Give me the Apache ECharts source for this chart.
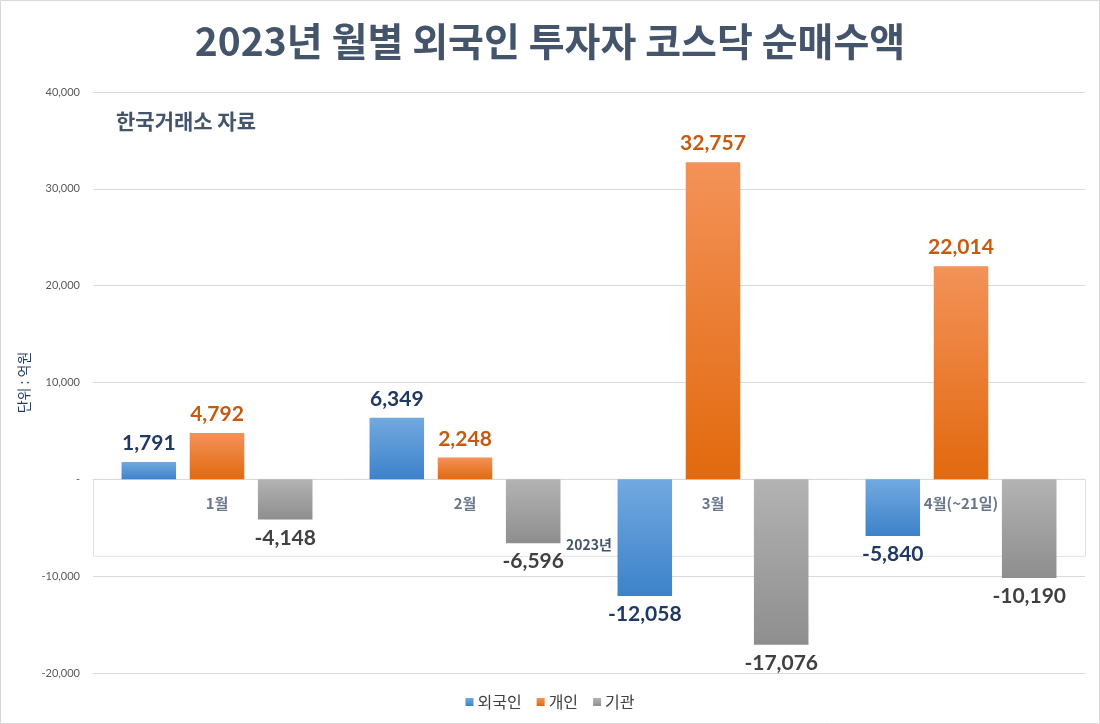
<!DOCTYPE html>
<html><head><meta charset="utf-8">
<script src="https://cdn.jsdelivr.net/npm/echarts@6/dist/echarts.min.js"></script>
<style>html,body{margin:0;padding:0;background:#fff}#c{width:1100px;height:724px}</style>
</head><body><div id="c"></div>
<script>
const categories = ['1월', '2월', '3월', '4월(~21일)'];
const foreign = [1791, 6349, -12058, -5840];
const individual = [4792, 2248, 32757, 22014];
const institution = [-4148, -6596, -17076, -10190];
const seriesNames = ['외국인', '개인', '기관'];
const axisTitle = '2023년';

const KR = '"Noto Sans CJK KR", sans-serif';
const NUM = 'Lato, "Noto Sans CJK KR", sans-serif';
const fmt = v => (v < 0 ? '-' : '') + Math.abs(v).toLocaleString('en-US');

function grad(top, bottom) {
  return new echarts.graphic.LinearGradient(0, 0, 0, 1, [{offset: 0, color: top}, {offset: 1, color: bottom}]);
}
function mk(name, data, top, bottom, labelColor) {
  return {
    name, type: 'bar', data: data.map(v => ({
      value: v,
      label: {position: v >= 0 ? 'top' : 'bottom'}
    })),
    barWidth: '22%', barGap: '25%',
    itemStyle: {color: grad(top, bottom)},
    label: {show: true, distance: 8, color: labelColor, fontFamily: NUM, fontWeight: 'bold', fontSize: 21,
      formatter: p => fmt(p.value)}
  };
}

const chart = echarts.init(document.getElementById('c'));
chart.setOption({
  animation: false,
  backgroundColor: '#fff',
  title: [{
    text: '2023년 월별 외국인 투자자 코스닥 순매수액', left: 'center', top: 17,
    textStyle: {fontFamily: KR, fontSize: 39, fontWeight: 'bold', color: '#44546A'}
  }, {
    text: '한국거래소 자료', left: 111, top: 106,
    textStyle: {fontFamily: KR, fontSize: 21, fontWeight: 'bold', color: '#44546A'}
  }],
  legend: {
    bottom: 9, left: 'center', icon: 'rect', itemWidth: 8, itemHeight: 8, itemGap: 15,
    textStyle: {fontFamily: KR, fontSize: 16, color: '#404040', padding: [0, 0, 0, -1]},
    data: seriesNames
  },
  grid: {left: 93, right: 15, top: 92, bottom: 51, outerBoundsMode: 'none', containLabel: false},
  xAxis: {
    type: 'category', data: categories,
    axisLine: {onZero: true, lineStyle: {color: '#D9D9D9'}},
    axisTick: {show: false},
    axisLabel: {show: false}
  },
  yAxis: {
    type: 'value', min: -20000, max: 40000, interval: 10000,
    axisLine: {show: false}, axisTick: {show: false},
    splitLine: {lineStyle: {color: '#D9D9D9'}},
    axisLabel: {color: '#595959', fontFamily: NUM, fontSize: 11, margin: 13,
      formatter: v => v === 0 ? '-' : fmt(v)},
    name: '단위 : 억원', nameLocation: 'middle', nameGap: 56, nameRotate: 90,
    nameTextStyle: {color: '#1F3864', fontFamily: KR, fontSize: 14}
  },
  series: [
    mk(seriesNames[0], foreign, '#72A9E0', '#3D82C9', '#1F3864'),
    mk(seriesNames[1], individual, '#F39259', '#E2690E', '#C55A11'),
    mk(seriesNames[2], institution, '#B3B3B3', '#8E8E8E', '#404040'),
    {
      name: 'cat', type: 'scatter', symbolSize: 0, z: 5, silent: true,
      data: categories.map(c => [c, 0]),
      label: {show: true, position: 'bottom', distance: 16, color: '#44546A', fontFamily: KR,
        fontWeight: 'bold', fontSize: 15, formatter: p => p.value[0]}
    }
  ]
});

// decorative frame and axis title
const y0 = chart.convertToPixel({yAxisIndex: 0}, 0);
chart.setOption({
  graphic: [
    {type: 'rect', silent: true, z: -1, shape: {x: 0.5, y: 0.5, width: 1099, height: 723},
      style: {fill: 'none', stroke: '#D9D9D9', lineWidth: 1}},
    {type: 'rect', silent: true, z: -1, shape: {x: 93.5, y: y0, width: 992, height: 77},
      style: {fill: '#fff', stroke: '#E3E3E3', lineWidth: 1}},
    {type: 'text', silent: true, z: 10, x: 589, y: y0 + 65,
      style: {text: axisTitle, fill: '#44546A', font: 'bold 14px "Noto Sans CJK KR"', align: 'center', verticalAlign: 'middle'}}
  ]
});
</script></body></html>
